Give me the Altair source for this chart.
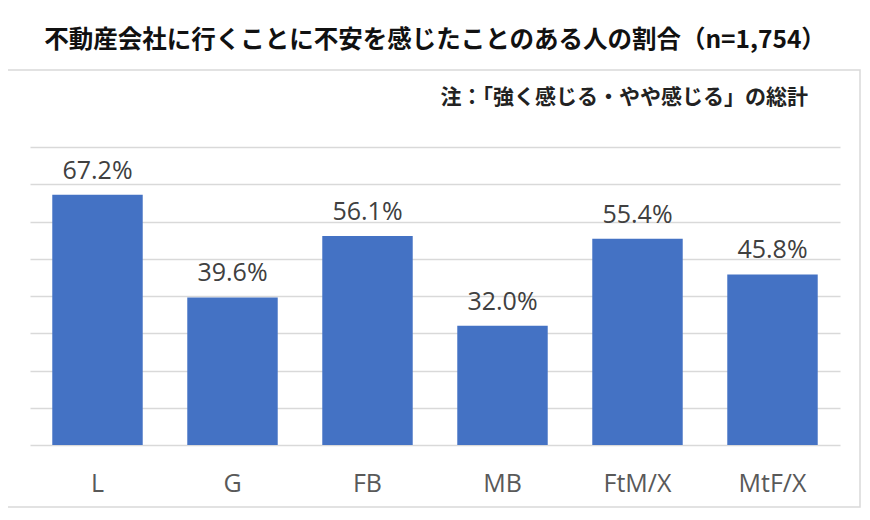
import altair as alt
import pandas as pd

categories = ["L", "G", "FB", "MB", "FtM/X", "MtF/X"]
values = [67.2, 39.6, 56.1, 32.0, 55.4, 45.8]
labels = ["67.2%", "39.6%", "56.1%", "32.0%", "55.4%", "45.8%"]
grid_values = [0, 10, 20, 30, 40, 50, 60, 70, 80]

title_text = "不動産会社に行くことに不安を感じたことのある人の割合（n=1,754）"
note_text = "注：「強く感じる・やや感じる」の総計"

df = pd.DataFrame({"cat": categories, "val": values, "label": labels})

W, H = 810, 298

x_axis = alt.Axis(labelAngle=0, labelFontSize=25, labelColor="#595959",
                  labelFont="Open Sans", ticks=False, domain=False,
                  labelBaseline="alphabetic", labelPadding=46, grid=False)
y_axis = alt.Axis(values=grid_values, labels=False, ticks=False, domain=False,
                  grid=True, gridColor="#d9d9d9", gridWidth=1.5)
x_scale = alt.Scale(paddingInner=0.33, paddingOuter=0.165)
y_scale = alt.Scale(domain=[0, 80], nice=False, zero=True)

x = alt.X("cat:N", sort=categories, title=None, scale=x_scale, axis=x_axis)
y = alt.Y("val:Q", title=None, scale=y_scale, axis=y_axis)

frame = alt.Chart(pd.DataFrame({"a": [0]})).mark_rect(
    fill="transparent", stroke="#d9d9d9", strokeWidth=1.5
).encode(x=alt.value(-24), x2=alt.value(830), y=alt.value(-77), y2=alt.value(360))

note = alt.Chart(pd.DataFrame({"t": [note_text]})).mark_text(
    align="right", baseline="middle", fontSize=21, fontWeight="bold",
    font="Noto Sans CJK JP", color="#222222"
).encode(x=alt.value(778), y=alt.value(-49), text="t:N")

bars = alt.Chart(df).mark_bar(color="#4472C4").encode(x=x, y=y)

text = alt.Chart(df).mark_text(
    dy=-16, fontSize=25, color="#404040", font="Open Sans", baseline="alphabetic"
).encode(x=x, y=y, text="label:N")

chart = alt.layer(frame, bars, text, note).properties(
    width=W, height=H,
    background="white",
    title=alt.TitleParams(title_text, fontSize=24.5, fontWeight="bold",
                          font="Noto Sans CJK JP", color="#111111",
                          anchor="middle", offset=16),
    padding={"left": 22, "top": 139, "right": 22, "bottom": 64},
    autosize=alt.AutoSizeParams(type="none"),
).configure_view(stroke="transparent", strokeWidth=0)

chart.save("out.html", embed_options={"renderer": "svg", "actions": False})
